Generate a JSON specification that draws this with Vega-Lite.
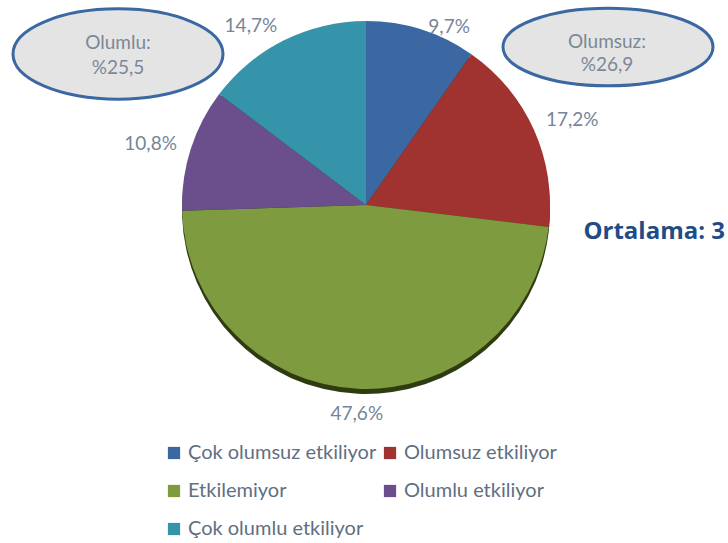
{
  "$schema": "https://vega.github.io/schema/vega-lite/v6.json",
  "width": 724,
  "height": 410,
  "autosize": {"type": "none"},
  "padding": {"left": 4, "top": 0, "right": 0, "bottom": 133},
  "background": "white",
  "config": {"view": {"stroke": null}, "font": "Lato"},
  "datasets": {
    "dilimler": [
      {"kategori": "Çok olumsuz etkiliyor", "yuzde": 9.7, "etiket": "9,7%", "sira": 1},
      {"kategori": "Olumsuz etkiliyor", "yuzde": 17.2, "etiket": "17,2%", "sira": 2},
      {"kategori": "Etkilemiyor", "yuzde": 47.6, "etiket": "47,6%", "sira": 3},
      {"kategori": "Olumlu etkiliyor", "yuzde": 10.8, "etiket": "10,8%", "sira": 4},
      {"kategori": "Çok olumlu etkiliyor", "yuzde": 14.7, "etiket": "14,7%", "sira": 5}
    ]
  },
  "data": {"name": "dilimler"},
  "layer": [
    {
      "mark": {"type": "arc", "outerRadius": 184, "yOffset": 5, "color": "#2f3c12"},
      "encoding": {
        "theta": {"field": "yuzde", "type": "quantitative", "stack": true},
        "order": {"field": "sira", "type": "quantitative"}
      }
    },
    {
      "mark": {"type": "arc", "outerRadius": 184},
      "encoding": {
        "theta": {"field": "yuzde", "type": "quantitative", "stack": true},
        "order": {"field": "sira", "type": "quantitative"},
        "color": {
          "field": "kategori",
          "type": "nominal",
          "scale": {
            "domain": ["Çok olumsuz etkiliyor", "Etkilemiyor", "Çok olumlu etkiliyor", "Olumsuz etkiliyor", "Olumlu etkiliyor"],
            "range": ["#3b68a2", "#7e9b3f", "#3593aa", "#a0332f", "#6a4f8c"]
          },
          "legend": {
            "orient": "none",
            "legendX": 160,
            "legendY": 443,
            "columns": 2,
            "title": null,
            "symbolType": "square",
            "symbolSize": 150,
            "symbolStrokeWidth": 0,
            "labelFont": "Lato",
            "labelFontSize": 20,
            "labelColor": "#5f6f82",
            "labelOffset": 4,
            "rowPadding": 18,
            "columnPadding": 3,
            "labelLimit": 400
          }
        }
      }
    },
    {
      "mark": {"type": "text", "radius": 187, "dx": 27, "fontSize": 19, "color": "#75859a"},
      "encoding": {
        "theta": {"field": "yuzde", "type": "quantitative", "stack": true},
        "order": {"field": "sira", "type": "quantitative"},
        "text": {"condition": {"test": "datum.sira == 1", "field": "etiket"}, "value": ""}
      }
    },
    {
      "mark": {"type": "text", "radius": 226, "dy": 7, "fontSize": 19, "color": "#75859a"},
      "encoding": {
        "theta": {"field": "yuzde", "type": "quantitative", "stack": true},
        "order": {"field": "sira", "type": "quantitative"},
        "text": {"condition": {"test": "datum.sira == 2 || datum.sira == 4", "field": "etiket"}, "value": ""}
      }
    },
    {
      "mark": {"type": "text", "radius": 209, "fontSize": 19, "color": "#75859a"},
      "encoding": {
        "theta": {"field": "yuzde", "type": "quantitative", "stack": true},
        "order": {"field": "sira", "type": "quantitative"},
        "text": {"condition": {"test": "datum.sira == 3", "field": "etiket"}, "value": ""}
      }
    },
    {
      "mark": {"type": "text", "radius": 200, "dx": -26, "fontSize": 19, "color": "#75859a"},
      "encoding": {
        "theta": {"field": "yuzde", "type": "quantitative", "stack": true},
        "order": {"field": "sira", "type": "quantitative"},
        "text": {"condition": {"test": "datum.sira == 5", "field": "etiket"}, "value": ""}
      }
    },
    {
      "data": {"values": [{"grup": "Olumlu"}]},
      "mark": {"type": "point", "shape": "M-1,0A1,0.43,0,1,1,1,0A1,0.43,0,1,1,-1,0Z", "size": 44100, "filled": false, "fill": "#e4e4e4", "fillOpacity": 1, "stroke": "#3b68a2", "strokeWidth": 3, "opacity": 1},
      "encoding": {
        "x": {"datum": 114, "type": "quantitative", "scale": {"domain": [0, 724], "nice": false, "zero": false}, "axis": null},
        "y": {"datum": 54, "type": "quantitative", "scale": {"domain": [0, 410], "reverse": true, "nice": false, "zero": false}, "axis": null}
      }
    },
    {
      "data": {"values": [{"grup": "Olumsuz"}]},
      "mark": {"type": "point", "shape": "M-1,0A1,0.37,0,1,1,1,0A1,0.37,0,1,1,-1,0Z", "size": 44100, "filled": false, "fill": "#e4e4e4", "fillOpacity": 1, "stroke": "#3b68a2", "strokeWidth": 3, "opacity": 1},
      "encoding": {
        "x": {"datum": 604, "type": "quantitative"},
        "y": {"datum": 47, "type": "quantitative"}
      }
    },
    {
      "data": {"values": [{"grup": "Olumlu", "oran": "%25,5"}]},
      "mark": {"type": "text", "text": ["Olumlu:", "%25,5"], "lineHeight": 25, "fontSize": 19, "color": "#7b8896", "baseline": "middle"},
      "encoding": {
        "x": {"datum": 114, "type": "quantitative"},
        "y": {"datum": 43, "type": "quantitative"}
      }
    },
    {
      "data": {"values": [{"grup": "Olumsuz", "oran": "%26,9"}]},
      "mark": {"type": "text", "text": ["Olumsuz:", "%26,9"], "lineHeight": 23, "fontSize": 19, "color": "#7b8896", "baseline": "middle"},
      "encoding": {
        "x": {"datum": 603, "type": "quantitative"},
        "y": {"datum": 42, "type": "quantitative"}
      }
    },
    {
      "data": {"values": [{"ortalama": 3}]},
      "mark": {"type": "text", "text": "Ortalama: 3", "font": "Open Sans", "fontSize": 24, "fontWeight": "bold", "color": "#1f4c86", "align": "right", "baseline": "middle"},
      "encoding": {
        "x": {"datum": 721, "type": "quantitative"},
        "y": {"datum": 232, "type": "quantitative"}
      }
    }
  ]
}
